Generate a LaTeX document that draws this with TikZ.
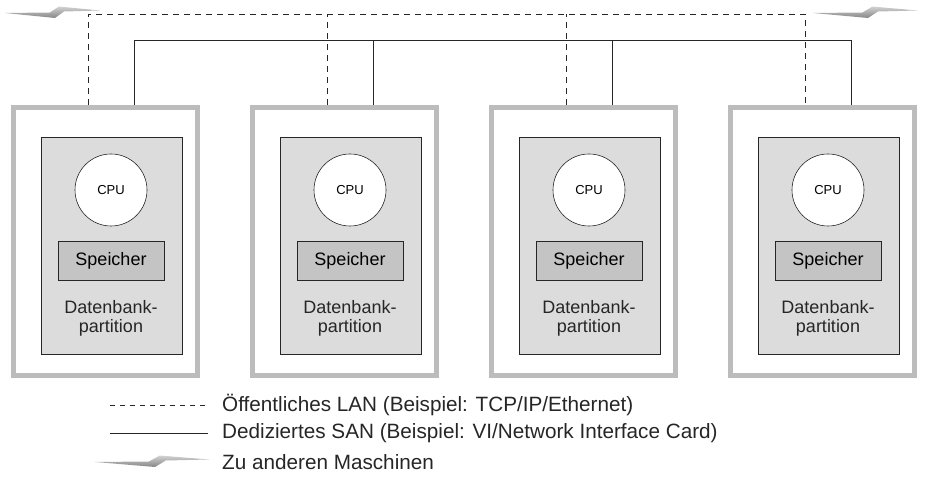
\documentclass[tikz,border=0pt]{standalone}
\usepackage{fontspec}
\setmainfont{Liberation Sans}
\usepackage{tikz}
\usepackage{xcolor}
\usetikzlibrary{positioning,shapes}

\definecolor{framegray}{HTML}{BCBCBC}
\definecolor{partgray}{HTML}{DCDCDC}
\definecolor{memgray}{HTML}{C4C4C4}
\definecolor{inkgray}{HTML}{262626}

\begin{document}
\begin{tikzpicture}[x=1pt,y=1pt,
  machine/.style={draw=framegray,line width=5pt,fill=white,minimum width=184,minimum height=268,inner sep=0pt},
  partition/.style={draw=inkgray,line width=0.6pt,fill=partgray,minimum width=141,minimum height=217,inner sep=0pt},
  cpunode/.style={circle,draw=inkgray,line width=0.6pt,fill=white,minimum size=72,inner sep=0pt,font=\fontsize{13}{14}\selectfont},
  memnode/.style={draw=inkgray,line width=0.6pt,fill=memgray,minimum width=106,minimum height=39,inner sep=0pt,font=\fontsize{18}{20}\selectfont},
  dbtext/.style={align=center,font=\fontsize{18}{19}\selectfont,text=inkgray},
  lan/.style={draw=inkgray,line width=0.9pt,dash pattern=on 6pt off 5pt},
  san/.style={draw=inkgray,line width=0.9pt},
  legend/.style={anchor=west,inner sep=0pt,font=\fontsize{20.7}{22}\selectfont,text=inkgray},
  bolt/.style={top color=gray!35,bottom color=gray!95,draw=none}]
\useasboundingbox (0,0) rectangle (927,-502);

% machines
\node[machine] (m1) at (105.5,-241.5) {};
\node[partition] (db1) at (111.5,-245.5) {};
\node[cpunode] (cpu1) at (111,-190) {CPU};
\node[memnode] (mem1) at (111,-260.5) {Speicher};
\node[dbtext] (lbl1) at (111,-318) {Datenbank-\\partition};

\node[machine] (m2) at (344.5,-241.5) {};
\node[partition] (db2) at (350.5,-245.5) {};
\node[cpunode] (cpu2) at (350,-190) {CPU};
\node[memnode] (mem2) at (350,-260.5) {Speicher};
\node[dbtext] (lbl2) at (350,-318) {Datenbank-\\partition};

\node[machine] (m3) at (583.5,-241.5) {};
\node[partition] (db3) at (589.5,-245.5) {};
\node[cpunode] (cpu3) at (589,-190) {CPU};
\node[memnode] (mem3) at (589,-260.5) {Speicher};
\node[dbtext] (lbl3) at (589,-318) {Datenbank-\\partition};

\node[machine] (m4) at (822.5,-241.5) {};
\node[partition] (db4) at (828.5,-245.5) {};
\node[cpunode] (cpu4) at (828,-190) {CPU};
\node[memnode] (mem4) at (828,-260.5) {Speicher};
\node[dbtext] (lbl4) at (828,-318) {Datenbank-\\partition};

% LAN (dashed) and SAN (solid)
\draw[lan] ([xshift=-17.5]m1.north) -- ++(0,91) -| ([xshift=-17.5]m4.north);
\draw[lan] ([xshift=-17.5]m2.north) -- ++(0,91);
\draw[lan] ([xshift=-17.5]m3.north) -- ++(0,91);
\draw[san] ([xshift=28.5]m1.north) -- ++(0,65) -| ([xshift=28.5]m4.north);
\draw[san] ([xshift=28.5]m2.north) -- ++(0,65);
\draw[san] ([xshift=28.5]m3.north) -- ++(0,65);

% to other machines
\shade[bolt,shift={(5,-12)}] (0,-1) -- (45,-0.5) -- (54,5.5) -- (95,1.5) -- (59,0.5) -- (50,-6) -- cycle;
\shade[bolt,shift={(813,-12)},xscale=1.1] (0,-1) -- (45,-0.5) -- (54,5.5) -- (95,1.5) -- (59,0.5) -- (50,-6) -- cycle;

% legend
\coordinate (lanA) at (110,-405);
\coordinate (lanB) at (208,-405);
\draw[lan,dash pattern=on 5pt off 5pt] (lanA) -- (lanB);
\node[legend] (lanTxt) at (222,-405) {Öffentliches LAN (Beispiel: TCP/IP/Ethernet)};
\coordinate (sanA) at (110,-433);
\coordinate (sanB) at (208,-433);
\draw[san] (sanA) -- (sanB);
\node[legend] (sanTxt) at (222,-433) {Dediziertes SAN (Beispiel: VI/Network Interface Card)};
\shade[bolt,shift={(95,-461)},xscale=1.2] (0,-1) -- (45,-0.5) -- (54,5.5) -- (95,1.5) -- (59,0.5) -- (50,-6) -- cycle;
\node[legend] (boltTxt) at (222,-462) {Zu anderen Maschinen};
\end{tikzpicture}
\end{document}
